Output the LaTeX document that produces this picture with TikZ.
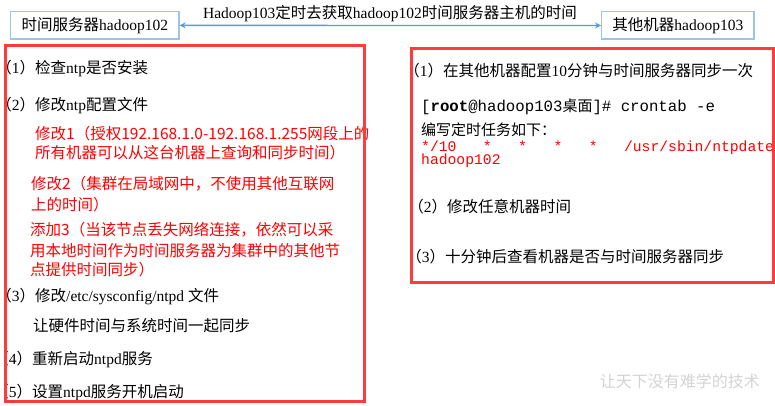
\documentclass[tikz,border=0pt]{standalone}
\usepackage{fontspec}
\setmainfont{Liberation Serif}
\setmonofont{Liberation Mono}
\newfontfamily\cjk{Noto Sans CJK SC}
\usetikzlibrary{arrows.meta}
\definecolor{boxblue}{HTML}{9DC3E6}
\definecolor{arrowblue}{HTML}{5B9BD5}
\definecolor{framered}{HTML}{FF3B3B}
\definecolor{txtred}{HTML}{FF0000}
\definecolor{wmgray}{HTML}{D4D4D4}
\newcommand\cj[1]{{\cjk #1}}
\begin{document}
\begin{tikzpicture}[x=1pt,y=-1pt,
  bluebox/.style={draw=boxblue, line width=1.3pt, inner sep=0pt, minimum height=27.3pt, font=\fontsize{15.5}{18}\selectfont},
  conn/.style={draw=arrowblue, line width=1.3pt, {Stealth[length=6pt,width=6pt]}-{Stealth[length=6pt,width=6pt]}},
  frame/.style={draw=framered, line width=2.7pt},
  txt/.style={anchor=base west, inner sep=0pt, font=\fontsize{15.5}{18}\selectfont},
  redtxt/.style={anchor=base west, inner sep=0pt, text=txtred, font=\cjk\fontsize{15.5}{18}\selectfont},
  monotxt/.style={anchor=base west, inner sep=0pt, font=\ttfamily\fontsize{14.7}{17}\selectfont}]
\useasboundingbox (0,0) rectangle (775,406);
\fill[white] (0,0) rectangle (775,406);

% top boxes and connector
\node[bluebox, minimum width=168.3pt] (srv) at (94.85,25.35) {\cj{时间服务器}hadoop102};
\node[bluebox, minimum width=152.3pt] (oth) at (677.85,25.5) {\cj{其他机器}hadoop103};
\draw[conn] (srv.east) -- (oth.west);
\node[txt, anchor=base] (lbl) at (390,18.5) {Hadoop103\cj{定时去获取}hadoop102\cj{时间服务器主机的时间}};

% left panel
\node[txt] (l1) at (-3.75,74) {\cj{（}1\cj{）检查}ntp\cj{是否安装}};
\node[txt] (l2) at (-3.75,110.5) {\cj{（}2\cj{）修改}ntp\cj{配置文件}};
\node[redtxt] (r1) at (35,139.5) {修改1（授权192.168.1.0-192.168.1.255网段上的};
\node[redtxt] (r2) at (35,158.5) {所有机器可以从这台机器上查询和同步时间）};
\node[redtxt] (r3) at (31,189) {修改2（集群在局域网中，不使用其他互联网};
\node[redtxt] (r4) at (31,210.5) {上的时间）};
\node[redtxt] (r5) at (30,235) {添加3（当该节点丢失网络连接，依然可以采};
\node[redtxt] (r6) at (30,256) {用本地时间作为时间服务器为集群中的其他节};
\node[redtxt] (r7) at (30,275) {点提供时间同步）};
\node[txt] (l3) at (-3.75,301.5) {\cj{（}3\cj{）修改}/etc/sysconfig/ntpd \cj{文件}};
\node[txt] (l4) at (33,331) {\cj{让硬件时间与系统时间一起同步}};
\node[txt] (l5) at (-6.75,364) {\cj{（}4\cj{）重新启动}ntpd\cj{服务}};
\node[txt] (l6) at (-6.75,397.5) {\cj{（}5\cj{）设置}ntpd\cj{服务开机启动}};

% right panel
\node[txt] (q1) at (404.25,76.5) {\cj{（}1\cj{）在其他机器配置}10\cj{分钟与时间服务器同步一次}};
\node[monotxt, font=\ttfamily\fontsize{15.7}{18}\selectfont] (q2) at (421,111.5) {[\textbf{root}@hadoop103{\cjk\fontsize{15}{18}\selectfont 桌面}]\# crontab -e};
\node[txt, font=\cjk\fontsize{15}{18}\selectfont] (q3) at (421,135.5) {编写定时任务如下：};
\node[monotxt, text=txtred] (q4) at (421,152) {*/10\ \ \ *\ \ \ *\ \ \ *\ \ \ *\ \ \ /usr/sbin/ntpdate};
\node[monotxt, text=txtred] (q5) at (421,164.5) {hadoop102};
\node[txt] (q6) at (408.25,212.5) {\cj{（}2\cj{）修改任意机器时间}};
\node[txt] (q7) at (406.25,262.5) {\cj{（}3\cj{）十分钟后查看机器是否与时间服务器同步}};

% frames
\draw[frame] (5.3,45.5) rectangle (364.8,401.8);
\draw[frame] (411.3,48.7) rectangle (773.5,282.3);

% watermark
\node[anchor=base east, inner sep=0pt, text=wmgray, font=\cjk\fontsize{16}{18}\selectfont] (wm) at (760,387) {让天下没有难学的技术};
\end{tikzpicture}
\end{document}
